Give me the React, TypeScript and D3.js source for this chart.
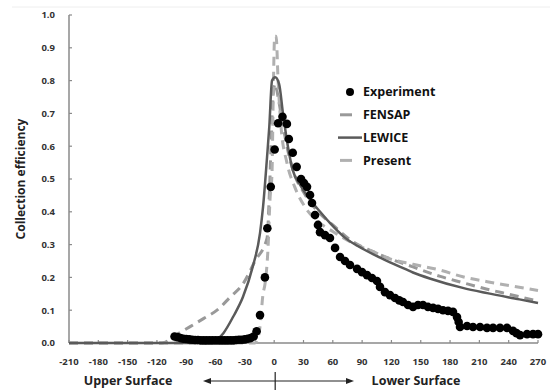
import React from 'react';
import * as d3 from 'd3';

// surface distance (mm) vs collection efficiency
const expX = [-102, -99, -96, -93, -90, -87, -84, -81, -78, -75, -72, -69, -66, -63, -60, -57, -54, -51, -48, -45, -42, -39, -36, -33, -30, -27, -24, -21, -18, -14.5, -9.5, -7, -3.5, 0.5, 4, 8.5, 13, 15, 19, 23, 27.5, 30.5, 33.6, 36.7, 38.7, 41.8, 44.8, 46.9, 52, 57.1, 62.3, 67.4, 72.5, 77.6, 84.8, 89.9, 95, 100.1, 105.2, 108.3, 113.4, 118.5, 123.7, 128, 131.8, 137, 142.1, 147.2, 152.3, 157.4, 162.6, 167.7, 172.8, 177.9, 183, 187.1, 188.8, 190.2, 197.4, 203.5, 210.7, 217.8, 224, 231.1, 238.3, 244.4, 248, 251.6, 258.8, 264.9, 270];
const expY = [0.02, 0.018, 0.015, 0.013, 0.012, 0.011, 0.01, 0.009, 0.009, 0.008, 0.008, 0.008, 0.008, 0.008, 0.008, 0.008, 0.008, 0.008, 0.008, 0.008, 0.008, 0.009, 0.01, 0.01, 0.011, 0.013, 0.015, 0.02, 0.036, 0.085, 0.2, 0.35, 0.476, 0.59, 0.67, 0.69, 0.668, 0.622, 0.58, 0.537, 0.5, 0.488, 0.476, 0.451, 0.427, 0.39, 0.36, 0.338, 0.329, 0.32, 0.29, 0.262, 0.25, 0.238, 0.226, 0.216, 0.207, 0.198, 0.189, 0.171, 0.155, 0.146, 0.137, 0.13, 0.125, 0.116, 0.11, 0.116, 0.116, 0.11, 0.107, 0.104, 0.1, 0.098, 0.095, 0.079, 0.064, 0.049, 0.052, 0.049, 0.049, 0.046, 0.046, 0.046, 0.046, 0.037, 0.03, 0.024, 0.027, 0.027, 0.027];

const fensapX = [-210, -115, -111, -100, -86, -72, -58.5, -45, -32, -19.6, -7.3, -5, -3, -1, 1, 4, 8, 13, 20, 30, 45, 60, 80, 100, 120, 142, 170, 193, 218, 241, 270];
const fensapY = [0, 0, 0.003, 0.025, 0.05, 0.075, 0.1, 0.14, 0.18, 0.25, 0.32, 0.45, 0.62, 0.76, 0.79, 0.75, 0.68, 0.6, 0.52, 0.46, 0.4, 0.36, 0.31, 0.28, 0.255, 0.232, 0.203, 0.184, 0.164, 0.148, 0.128];

const lewiceX = [-210, -70, -62, -52, -42, -32, -22, -14.5, -11.4, -7.3, -5, -2.2, 1, 5, 9, 14, 19, 27, 37, 47, 57, 72, 92, 110, 129, 142, 160, 193, 218, 251, 270];
const lewiceY = [0, 0, 0.005, 0.03, 0.08, 0.14, 0.232, 0.335, 0.415, 0.567, 0.66, 0.8, 0.81, 0.79, 0.7, 0.6, 0.527, 0.48, 0.436, 0.4, 0.366, 0.322, 0.285, 0.258, 0.232, 0.215, 0.196, 0.168, 0.152, 0.133, 0.122];

const presentX = [-210, -20, -17, -14.5, -11.4, -9.4, -6.3, -4.3, -2.2, -1, 0.5, 2, 4, 7, 13, 21, 31.5, 45, 60, 80, 100, 118, 142, 170, 193, 218, 241, 270];
const presentY = [0, 0, 0.01, 0.05, 0.15, 0.18, 0.29, 0.436, 0.52, 0.75, 0.935, 0.935, 0.8, 0.66, 0.55, 0.476, 0.415, 0.37, 0.34, 0.305, 0.28, 0.257, 0.24, 0.222, 0.202, 0.187, 0.175, 0.16];

const xTicks = [-210, -180, -150, -120, -90, -60, -30, 0, 30, 60, 90, 120, 150, 180, 210, 240, 270];
const yTicks = [0, 0.1, 0.2, 0.3, 0.4, 0.5, 0.6, 0.7, 0.8, 0.9, 1.0];

const legendItems = [
  { name: 'Experiment', kind: 'dot' },
  { name: 'FENSAP', kind: 'fensap' },
  { name: 'LEWICE', kind: 'lewice' },
  { name: 'Present', kind: 'present' },
];

const W = 560;
const H = 390;
const font = '"Open Sans", "Liberation Sans", Arial, sans-serif';

export default function App() {
  const x = d3.scaleLinear().domain([-210, 270]).range([69, 538]);
  const y = d3.scaleLinear().domain([0, 1]).range([343, 15]);

  const line = (xs: number[], ys: number[]) =>
    d3.line<number>()
      .x((_, i) => x(xs[i]))
      .y((_, i) => y(ys[i]))
      .curve(d3.curveMonotoneX)(ys) || '';

  const axisColor = '#8a8a8a';
  const tickColor = '#333';

  return (
    <svg width={W} height={H} style={{ position: 'absolute', left: 0, top: 0, background: '#fff' }}>
      <line x1={12} x2={550} y1={7} y2={7} stroke="#eee" strokeWidth={1} />

      {/* axes */}
      <line x1={x(-210)} x2={x(-210)} y1={y(1)} y2={y(0)} stroke={axisColor} strokeWidth={1.5} />
      <line x1={x(-210)} x2={x(270)} y1={y(0)} y2={y(0)} stroke={axisColor} strokeWidth={1.5} />
      {yTicks.map(t => (
        <g key={t}>
          <line x1={x(-210)} x2={x(-210) + 3} y1={y(t)} y2={y(t)} stroke={axisColor} strokeWidth={1.2} />
          <text x={55} y={y(t)} dy="0.35em" textAnchor="end" fontFamily={font} fontWeight="bold" fontSize={9.5} fill={tickColor}>
            {t.toFixed(1)}
          </text>
        </g>
      ))}
      {xTicks.map(t => (
        <g key={t}>
          <line x1={x(t)} x2={x(t)} y1={y(0)} y2={y(0) - 3} stroke={axisColor} strokeWidth={1.2} />
          <text x={x(t)} y={365} textAnchor="middle" fontFamily={font} fontWeight="bold" fontSize={9.5} fill={tickColor}>
            {t}
          </text>
        </g>
      ))}

      <text transform={`translate(25,${y(0.5)}) rotate(-90)`} textAnchor="middle" fontFamily={font} fontWeight="bold" fontSize={12} fill="#222">
        Collection efficiency
      </text>

      {/* surface labels and arrows */}
      <text x={128} y={385} textAnchor="middle" fontFamily={font} fontWeight="bold" fontSize={12.5} fill="#222">Upper Surface</text>
      <text x={416} y={385} textAnchor="middle" fontFamily={font} fontWeight="bold" fontSize={12.5} fill="#222">Lower Surface</text>
      <line x1={209} x2={348} y1={381} y2={381} stroke="#222" strokeWidth={1.2} />
      <path d="M203,381 L211,378 L211,384 Z" fill="#222" />
      <path d="M354,381 L346,378 L346,384 Z" fill="#222" />
      <line x1={x(0) + 1} x2={x(0) + 1} y1={372} y2={390} stroke="#222" strokeWidth={1.2} />

      {/* curves */}
      <path d={line(fensapX, fensapY)} fill="none" stroke="#999" strokeWidth={3} strokeDasharray="9,6" />
      <path d={line(presentX, presentY)} fill="none" stroke="#b0b0b0" strokeWidth={3} strokeDasharray="9,6" />
      <path d={line(lewiceX, lewiceY)} fill="none" stroke="#5a5a5a" strokeWidth={2.5} />

      {expX.map((v, i) => (
        <circle key={i} cx={x(v)} cy={y(expY[i])} r={4.3} fill="#000" />
      ))}

      {/* legend */}
      {legendItems.map((d, i) => {
        const ly = 92 + i * 22.8;
        return (
          <g key={d.name}>
            {d.kind === 'dot' && <circle cx={350} cy={ly} r={4} fill="#000" />}
            {d.kind === 'fensap' && <line x1={340} x2={352} y1={ly} y2={ly} stroke="#999" strokeWidth={3} />}
            {d.kind === 'lewice' && <line x1={338} x2={362} y1={ly} y2={ly} stroke="#5a5a5a" strokeWidth={2.5} />}
            {d.kind === 'present' && <line x1={340} x2={352} y1={ly} y2={ly} stroke="#b0b0b0" strokeWidth={3} />}
            <text x={363} y={ly} dy="0.35em" fontFamily={font} fontWeight="bold" fontSize={12.5} fill="#111">{d.name}</text>
          </g>
        );
      })}
    </svg>
  );
}
